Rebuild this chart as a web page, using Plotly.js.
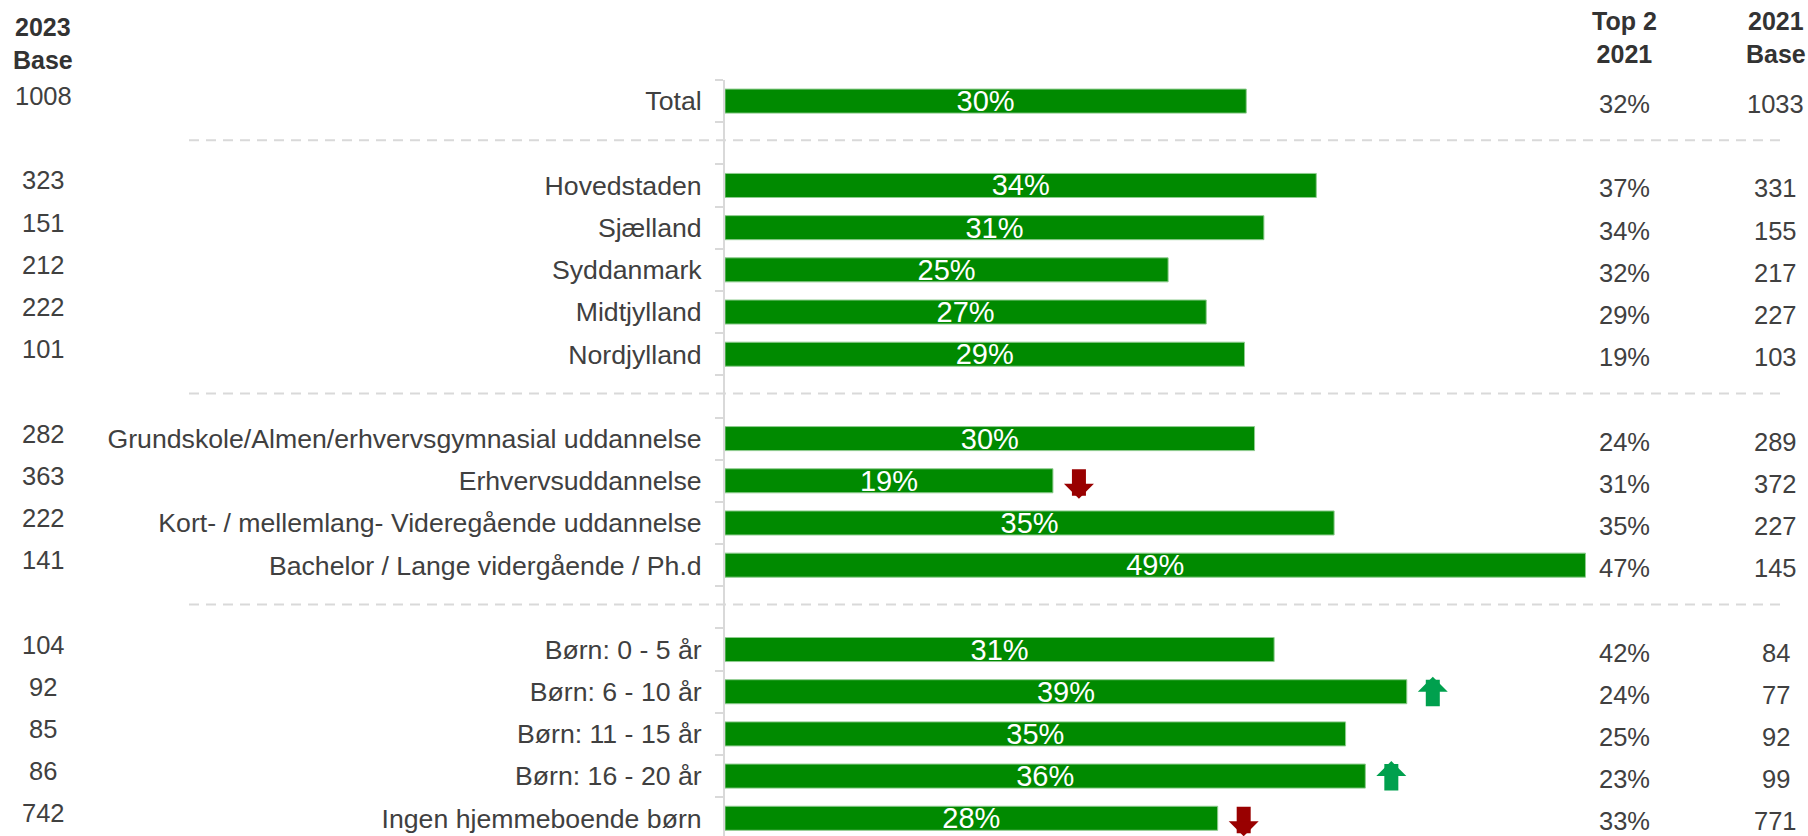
<!DOCTYPE html>
<html><head><meta charset="utf-8">
<script src="https://cdn.plot.ly/plotly-3.0.1.min.js"></script>
<style>html,body{margin:0;padding:0;background:#fff;}#chart{width:1808px;height:836px;}</style>
</head><body><div id="chart"></div>
<script>
// ---- data ----
const categories = ["Total", " ", "Hovedstaden", "Sjælland", "Syddanmark", "Midtjylland", "Nordjylland", "  ",
  "Grundskole/Almen/erhvervsgymnasial uddannelse", "Erhvervsuddannelse", "Kort- / mellemlang- Videregående uddannelse",
  "Bachelor / Lange vidergående / Ph.d", "   ", "Børn: 0 - 5 år", "Børn: 6 - 10 år", "Børn: 11 - 15 år",
  "Børn: 16 - 20 år", "Ingen hjemmeboende børn"];
// Top 2 2023 share (%); labels show them rounded
const top2_2023 = [29.55, null, 33.52, 30.55, 25.12, 27.28, 29.45, null, 30.02, 18.59, 34.53, 48.78, null, 31.13, 38.65, 35.18, 36.30, 27.93];
const base_2023 = [1008, null, 323, 151, 212, 222, 101, null, 282, 363, 222, 141, null, 104, 92, 85, 86, 742];
const top2_2021 = [32, null, 37, 34, 32, 29, 19, null, 24, 31, 35, 47, null, 42, 24, 25, 23, 33];
const base_2021 = [1033, null, 331, 155, 217, 227, 103, null, 289, 372, 227, 145, null, 84, 77, 92, 99, 771];
const sigChange = [0, 0, 0, 0, 0, 0, 0, 0, 0, -1, 0, 0, 0, 0, 1, 0, 1, -1];
const headerLeft = "2023<br>Base";
const headerTop2 = "Top 2<br>2021";
const headerRight = "2021<br>Base";

// ---- style ----
const FONT = "Liberation Sans, Arial, sans-serif";
const TXT = "#404040";
const BAR = "#008a00";
const colBase23 = -0.7732, colTop21 = 1.0193, colBase21 = 1.1916;

const trace = {
  type: "bar", orientation: "h",
  y: categories, x: top2_2023,
  marker: {color: BAR, line: {color: "#8fcc8f", width: 1}},
  texttemplate: "%{x:.0f}%", textposition: "inside", insidetextanchor: "middle",
  textangle: 0, constraintext: "none", cliponaxis: false,
  textfont: {family: FONT, size: 29, color: "#ffffff"},
  hoverinfo: "skip"
};

const annotations = [];
const shapes = [];
const valFont = {family: FONT, size: 25.5, color: TXT};
categories.forEach((c, i) => {
  if (top2_2023[i] === null) {
    shapes.push({type: "line", xref: "paper", yref: "y", x0: -0.6077, x1: 1.2041, y0: i - 0.07, y1: i - 0.07,
      line: {color: "#d9d9d9", width: 2, dash: "10px,7px"}, layer: "below"});
    return;
  }
  annotations.push({xref: "paper", yref: "y", x: colBase23, y: c, text: String(base_2023[i]),
    showarrow: false, xanchor: "center", yanchor: "middle", yshift: 5, font: valFont});
  annotations.push({xref: "paper", yref: "y", x: colTop21, y: c, text: top2_2021[i] + "%",
    showarrow: false, xanchor: "center", yanchor: "middle", yshift: -3, font: valFont});
  annotations.push({xref: "paper", yref: "y", x: colBase21, y: c, text: String(base_2021[i]),
    showarrow: false, xanchor: "center", yanchor: "middle", yshift: -3, font: valFont});
  if (sigChange[i] !== 0) {
    const up = sigChange[i] > 0;
    annotations.push({xref: "x", yref: "y", x: top2_2023[i], y: c, text: "", xshift: 26,
      yshift: up ? 15 : -18, ax: 0, ay: up ? 30 : -30, showarrow: true, arrowhead: 1,
      arrowsize: 0.357, arrowwidth: 14, borderpad: 0, font: {size: 1},
      arrowcolor: up ? "#00a04e" : "#990000"});
  }
});
const hdrFont = {family: FONT, size: 25, color: "#333333", weight: "bold"};
annotations.push({xref: "paper", yref: "paper", x: colBase23, y: 1.048, text: "<b>" + headerLeft + "</b>",
  showarrow: false, xanchor: "center", yanchor: "middle", font: hdrFont});
annotations.push({xref: "paper", yref: "paper", x: colTop21, y: 1.056, text: "<b>" + headerTop2 + "</b>",
  showarrow: false, xanchor: "center", yanchor: "middle", font: hdrFont});
annotations.push({xref: "paper", yref: "paper", x: colBase21, y: 1.056, text: "<b>" + headerRight + "</b>",
  showarrow: false, xanchor: "center", yanchor: "middle", font: hdrFont});

const layout = {
  width: 1808, height: 836,
  margin: {l: 725, r: 201, t: 80, b: 0, pad: 0},
  paper_bgcolor: "#ffffff", plot_bgcolor: "#ffffff",
  showlegend: false, bargap: 0.43,
  font: {family: FONT, color: TXT},
  xaxis: {range: [0, 50], visible: false, showgrid: false, zeroline: false, fixedrange: true},
  yaxis: {type: "category", categoryorder: "array", categoryarray: categories,
    range: [17.42, -0.5], showline: true, linecolor: "#d9d9d9", linewidth: 2,
    ticks: "outside", tickson: "boundaries", ticklen: 8, tickcolor: "#d9d9d9", tickwidth: 2,
    ticklabelstandoff: 16, showgrid: false, zeroline: false, automargin: false,
    tickfont: {family: FONT, size: 26.67, color: TXT}, fixedrange: true},
  annotations: annotations,
  shapes: shapes
};
Plotly.newPlot("chart", [trace], layout, {displayModeBar: false, staticPlot: true});
</script></body></html>
